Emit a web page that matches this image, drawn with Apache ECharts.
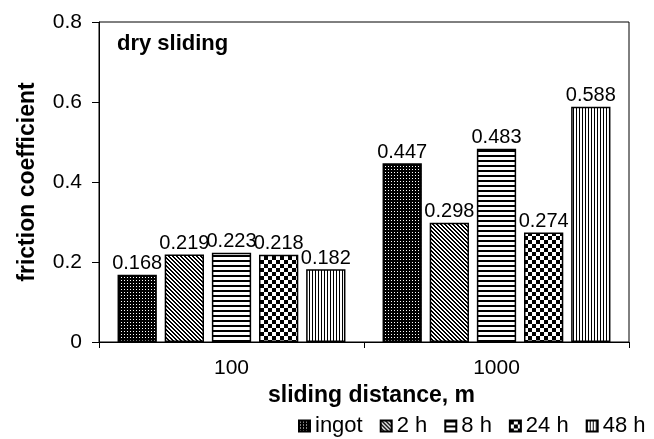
<!DOCTYPE html>
<html>
<head>
<meta charset="utf-8">
<script src="https://cdn.jsdelivr.net/npm/echarts@6/dist/echarts.min.js"></script>
<style>html,body{margin:0;padding:0;background:#fff}#c{width:654px;height:439px}</style>
</head>
<body>
<div id="c"></div>
<script>
const categories = ['100', '1000'];
const seriesNames = ['ingot', '2 h', '8 h', '24 h', '48 h'];
const ingot = [0.168, 0.447];
const h2 = [0.219, 0.298];
const h8 = [0.223, 0.483];
const h24 = [0.218, 0.274];
const h48 = [0.182, 0.588];
const yTicks = [0, 0.2, 0.4, 0.6, 0.8];
const title = 'dry sliding';
const xName = 'sliding distance, m';
const yName = 'friction coefficient';

function tile(w, h, draw) {
  const c = document.createElement('canvas');
  c.width = w; c.height = h;
  const g = c.getContext('2d');
  g.fillStyle = '#fff'; g.fillRect(0, 0, w, h);
  g.fillStyle = '#000';
  draw(g);
  return { image: c, repeat: 'repeat' };
}
const patterns = [
  tile(3, 3, g => { g.fillRect(0, 0, 3, 3); g.fillStyle = '#fff'; g.fillRect(1, 1, 1, 1); }),
  tile(4, 4, g => { for (let y = 0; y < 4; y++) { g.fillRect(y, y, 1, 1); g.fillRect((y + 1) % 4, y, 1, 1); } }),
  tile(5, 5, g => { g.fillRect(0, 0, 5, 2); }),
  tile(8, 8, g => { g.fillRect(0, 0, 4, 4); g.fillRect(4, 4, 4, 4); }),
  tile(3, 3, g => { g.fillRect(0, 0, 1, 3); })
];
const values = [ingot, h2, h8, h24, h48];
const FONT = 'Liberation Sans, Arial, sans-serif';

const chart = echarts.init(document.getElementById('c'), null, { renderer: 'canvas' });
chart.setOption({
  animation: false,
  backgroundColor: '#fff',
  title: {
    text: title, left: 117, top: 33, padding: 0,
    textStyle: { fontFamily: FONT, fontSize: 22, fontWeight: 'bold', color: '#000' }
  },
  legend: {
    left: 298, top: 415, padding: 0, itemGap: 17, itemWidth: 11, itemHeight: 11,
    icon: 'rect',
    data: seriesNames,
    textStyle: { fontFamily: FONT, fontSize: 22, color: '#000' }
  },
  grid: { left: 99, right: 25, top: 22, bottom: 97, show: true, borderColor: '#000', borderWidth: 1, backgroundColor: 'transparent' },
  xAxis: {
    type: 'category', data: categories,
    axisLine: { lineStyle: { color: '#000', width: 1 } },
    axisTick: { show: true, length: 6, lineStyle: { color: '#000' } },
    axisLabel: { margin: 16, fontFamily: FONT, fontSize: 21, color: '#000' },
    name: xName, nameLocation: 'middle', nameGap: 27,
    nameTextStyle: { fontFamily: FONT, fontSize: 23, fontWeight: 'bold', color: '#000', padding: [0, 0, 0, 15] }
  },
  yAxis: {
    type: 'value', min: yTicks[0], max: yTicks[yTicks.length - 1], interval: 0.2,
    splitLine: { show: false },
    axisLine: { show: true, lineStyle: { color: '#000', width: 1 } },
    axisTick: { show: true, length: 7, lineStyle: { color: '#000' } },
    axisLabel: { margin: 17, fontFamily: FONT, fontSize: 21, color: '#000' },
    name: yName, nameLocation: 'middle', nameGap: 60, nameRotate: 90,
    nameTextStyle: { fontFamily: FONT, fontSize: 23, fontWeight: 'bold', color: '#000' }
  },
  series: seriesNames.map((n, i) => ({
    name: n, type: 'bar', data: values[i],
    barGap: '20%', barCategoryGap: '14%',
    itemStyle: { color: patterns[i], borderColor: '#000', borderWidth: 1.5 },
    label: {
      show: true, position: 'top', distance: 1,
      fontFamily: FONT, fontSize: 20, color: '#000',
      formatter: p => p.value.toFixed(3)
    }
  }))
});
</script>
</body>
</html>
